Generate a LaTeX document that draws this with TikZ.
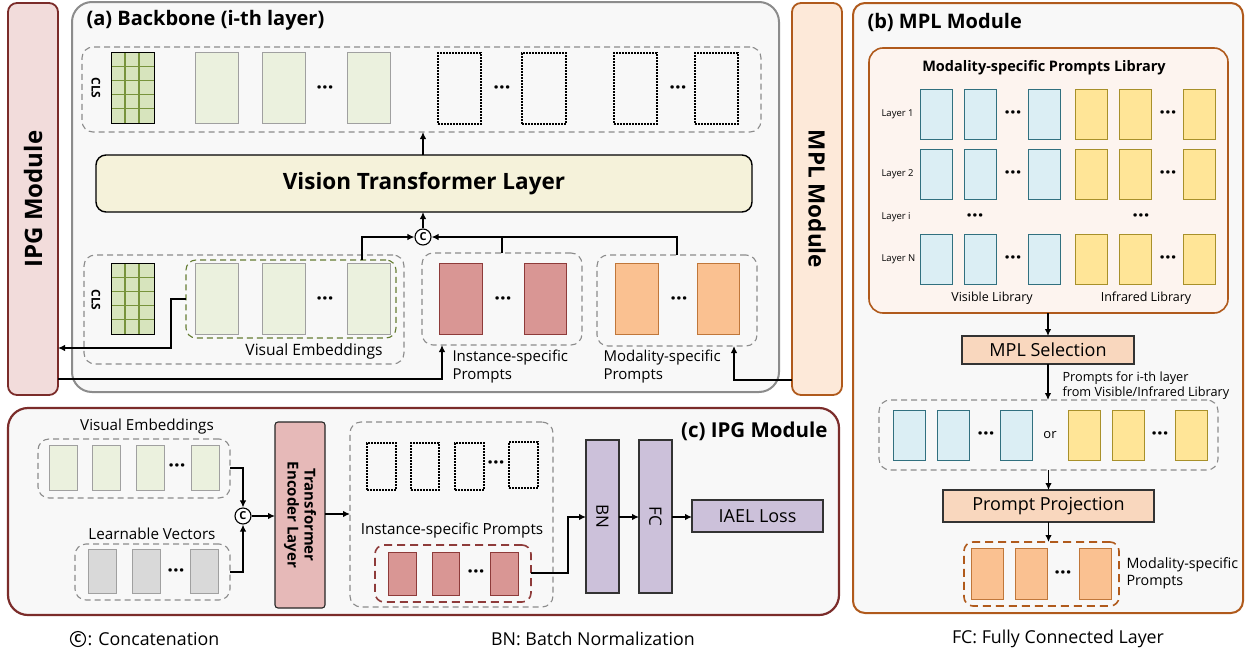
\documentclass[tikz,border=0pt]{standalone}
\usepackage{fontspec}
\setmainfont{Open Sans}
\usetikzlibrary{fit,arrows.meta,calc}
\definecolor{panel}{HTML}{F8F8F8}
\definecolor{bbord}{HTML}{8C8C8C}
\definecolor{ipgfill}{HTML}{F2DCDB}
\definecolor{ipgline}{HTML}{7B2C2A}
\definecolor{mplfill}{HTML}{FDE9D9}
\definecolor{mplline}{HTML}{B05A1C}
\definecolor{libfill}{HTML}{FDF4EF}
\definecolor{gfill}{HTML}{EBF1DE}
\definecolor{clsfill}{HTML}{D7E4BD}
\definecolor{clsline}{HTML}{77933C}
\definecolor{vtlfill}{HTML}{F5F2DA}
\definecolor{rfill}{HTML}{D99694}
\definecolor{rline}{HTML}{8E3B3A}
\definecolor{ofill}{HTML}{FAC191}
\definecolor{oline}{HTML}{C0773A}
\definecolor{bfill}{HTML}{DBEEF4}
\definecolor{bline}{HTML}{31707F}
\definecolor{yfill}{HTML}{FFE597}
\definecolor{yline}{HTML}{A8902A}
\definecolor{selfill}{HTML}{F9D7BE}
\definecolor{telfill}{HTML}{E6B9B8}
\definecolor{pfill}{HTML}{CCC1DA}
\definecolor{vfill}{HTML}{D9D9D9}
\definecolor{boxgray}{HTML}{A0A0A0}
\tikzset{
  bx/.style={inner sep=0pt, outer sep=0pt, line width=1pt},
  gbox/.style={bx, draw=boxgray, fill=gfill},
  vbox/.style={bx, draw=boxgray, fill=vfill},
  rbox/.style={bx, draw=rline, fill=rfill},
  obox/.style={bx, draw=oline, fill=ofill},
  bbox/.style={bx, draw=bline, fill=bfill},
  ybox/.style={bx, draw=yline, fill=yfill},
  dotbox/.style={bx, draw=black, line width=1.4pt, dash pattern=on 1.6pt off 1.4pt},
  clsbox/.style={bx, draw=black, fill=clsfill},
  dgroup/.style={bx, draw=bbord, line width=1.1pt, dash pattern=on 6pt off 4pt, rounded corners=11pt},
  ggroup/.style={bx, draw=clsline!85!black, line width=1.1pt, dash pattern=on 6pt off 4pt, rounded corners=10pt},
  rgroup/.style={bx, draw=rline, line width=1.6pt, dash pattern=on 8pt off 5pt, rounded corners=9pt},
  ogroup/.style={bx, draw=mplline, line width=1.6pt, dash pattern=on 8pt off 5pt, rounded corners=9pt},
  dots/.style={inner sep=0pt, yshift=-2pt, font=\bfseries\fontsize{20}{20}\selectfont},
  ln/.style={line width=1.3pt, draw=black},
  arr/.style={ln, -{Latex[length=7pt,width=6.5pt]}},
  cat/.style={circle, draw=black, line width=1.1pt, fill=white, inner sep=0pt, minimum size=16pt,
     font=\bfseries\fontsize{11}{11}\selectfont},
  plainbox/.style={bx, draw=black!80, line width=1.1pt},
}
\begin{document}
\begin{tikzpicture}[x=1pt,y=-1pt]
\useasboundingbox (0,0) rectangle (1253,656);

% ---------------- (a) Backbone ----------------
\node[bx, draw=bbord, line width=2pt, fill=panel, rounded corners=20pt, fit={(72,2)(779,392)}] (A) {};
\node[anchor=west, font=\bfseries\fontsize{20}{20}\selectfont] (ta) at (83,20) {(a) Backbone (i-th layer)};

% IPG bar
\node[bx, draw=ipgline, line width=1.8pt, fill=ipgfill, rounded corners=9pt, fit={(8,3)(58,395)}] (ipg) {};
\node[rotate=90, font=\bfseries\fontsize{24}{24}\selectfont] (ipgt) at (ipg.center) {IPG Module};
% MPL bar
\node[bx, draw=mplline, line width=1.8pt, fill=mplfill, rounded corners=9pt, fit={(792,3)(842,395)}] (mplb) {};
\node[rotate=-90, font=\bfseries\fontsize{22.5}{22.5}\selectfont] (mplt) at (mplb.center) {MPL Module};

% top row
\node[dgroup, fit={(82,47)(761,132)}] (topg) {};
\node[clsbox, fit={(111,52)(154,123)}] (cls1) {};
\foreach \xx in {125,139} \draw[clsline, line width=1.2pt] (\xx,52) -- (\xx,123);
\foreach \yy in {66.2,80.4,94.6,108.8} \draw[clsline, line width=1.2pt] (111,\yy) -- (154,\yy);
\draw[black, line width=1pt] (cls1.north west) rectangle (cls1.south east);
\node[rotate=-90, font=\bfseries\fontsize{12}{12}\selectfont] (clst1) at (96,88) {CLS};
\node[gbox, fit={(195,52)(238,123)}] (t1) {};
\node[gbox, fit={(262,52)(305,123)}] (t2) {};
\node[dots] (td1) at (325,88) {···};
\node[gbox, fit={(347,52)(390,123)}] (t3) {};
\node[dotbox, fit={(438,53)(481,124)}] (t4) {};
\node[dots] (td2) at (502,88) {···};
\node[dotbox, fit={(522,53)(566,124)}] (t5) {};
\node[dotbox, fit={(614,53)(657,124)}] (t6) {};
\node[dots] (td3) at (678,88) {···};
\node[dotbox, fit={(695,53)(738,124)}] (t7) {};

% ViT layer
\node[bx, draw=black, line width=1.4pt, fill=vtlfill, rounded corners=10pt, fit={(96,155)(752,212)}] (vtl) {};
\node[font=\bfseries\fontsize{22.5}{22.5}\selectfont] (vtlt) at (vtl.center) {Vision Transformer Layer};

% bottom row
\node[dgroup, fit={(84,255)(404,364)}] (botg) {};
\node[ggroup, fit={(186,260)(396,338)}] (veg) {};
\node[clsbox, fit={(111,263)(154,334)}] (cls2) {};
\foreach \xx in {125,139} \draw[clsline, line width=1.2pt] (\xx,263) -- (\xx,334);
\foreach \yy in {277.2,291.4,305.6,319.8} \draw[clsline, line width=1.2pt] (111,\yy) -- (154,\yy);
\draw[black, line width=1pt] (cls2.north west) rectangle (cls2.south east);
\node[rotate=-90, font=\bfseries\fontsize{12}{12}\selectfont] (clst2) at (96,300) {CLS};
\node[gbox, fit={(195,263)(238,334)}] (b1) {};
\node[gbox, fit={(262,263)(305,334)}] (b2) {};
\node[dots] (bd1) at (325,299) {···};
\node[gbox, fit={(347,263)(390,334)}] (b3) {};
\node[font=\fontsize{15.6}{15.6}\selectfont] (vet) at (314,351) {Visual Embeddings};

\node[dgroup, fit={(422,253)(582,345)}] (isp) {};
\node[rbox, fit={(439,263)(482,334)}] (r1) {};
\node[dots] (rd1) at (503,299) {···};
\node[rbox, fit={(524,263)(566,334)}] (r2) {};
\node[anchor=north west, align=left, font=\fontsize{15}{18}\selectfont] (ispt) at (449,346) {Instance-specific\\Prompts};

\node[dgroup, fit={(597,255)(757,346)}] (msp) {};
\node[obox, fit={(615,263)(658,334)}] (o1) {};
\node[dots] (od1) at (679,299) {···};
\node[obox, fit={(697,263)(739,334)}] (o2) {};
\node[anchor=north west, align=left, font=\fontsize{15}{18}\selectfont] (mspt) at (600,346) {Modality-specific\\Prompts};

% concatenation and connectors
\node[cat] (cc) at (423,237) {C};
\draw[arr] (vtl.north -| cc) -- (topg.south -| cc);
\draw[arr] (cc) -- (vtl.south -| cc);
\draw[arr] (veg.north -| 362,0) |- (cc);
\draw[ln] (msp.north -| 677,0) |- (502,237);
\draw[arr] (isp.north -| 502,0) |- (cc);
\draw[arr] (veg.west) -- (171,299) |- (ipg.east |- 0,348);
\draw[arr] (ipg.east |- 0,379) -| (isp.south -| 442,0);
\draw[arr] (mplb.west |- 0,380) -| (msp.south -| 734,0);

% ---------------- (b) MPL Module ----------------
\node[bx, draw=mplline, line width=2pt, fill=panel, rounded corners=12pt, fit={(853,3)(1243,613)}] (B) {};
\node[anchor=west, font=\bfseries\fontsize{20}{20}\selectfont] (tb) at (864,22) {(b) MPL Module};
\node[bx, draw=mplline, line width=1.6pt, fill=libfill, rounded corners=14pt, fit={(869,48)(1228,313)}] (lib) {};
\node[font=\bfseries\fontsize{14.5}{14.5}\selectfont] (libt) at (1044,68) {Modality-specific Prompts Library};
\foreach \nm/\ya/\yb/\lab in {l1/89/139/Layer 1, l2/149/199/Layer 2, lN/234/284/Layer N}{
  \node[anchor=west, font=\fontsize{9.5}{9.5}\selectfont] (\nm t) at (878,{(\ya+\yb)/2}) {\lab};
  \node[bbox, fit={(920,\ya)(952,\yb)}] (\nm b1) {};
  \node[bbox, fit={(964,\ya)(996,\yb)}] (\nm b2) {};
  \node[dots] (\nm bd) at (1013,{(\ya+\yb)/2-1}) {···};
  \node[bbox, fit={(1028,\ya)(1060,\yb)}] (\nm b3) {};
  \node[ybox, fit={(1075,\ya)(1107,\yb)}] (\nm y1) {};
  \node[ybox, fit={(1119,\ya)(1151,\yb)}] (\nm y2) {};
  \node[dots] (\nm yd) at (1168,{(\ya+\yb)/2-1}) {···};
  \node[ybox, fit={(1183,\ya)(1215,\yb)}] (\nm y3) {};
}
\node[anchor=west, font=\fontsize{9.5}{9.5}\selectfont] (lit) at (878,217) {Layer i};
\node[dots] (lid1) at (975,216) {···};
\node[dots] (lid2) at (1141,216) {···};
\node[font=\fontsize{12.5}{12.5}\selectfont] (visl) at (992,298) {Visible Library};
\node[font=\fontsize{12.5}{12.5}\selectfont] (irl) at (1146,298) {Infrared Library};

\node[plainbox, fill=selfill, fit={(962,336)(1134,364)}] (sel) {};
\node[font=\fontsize{18}{18}\selectfont] (selt) at (sel.center) {MPL Selection};
\draw[arr] (lib.south -| sel) -- (sel.north);

\node[dgroup, fit={(879,400)(1218,470)}] (selg) {};
\draw[arr] (sel.south) -- (selg.north -| sel);
\node[anchor=north west, align=left, font=\fontsize{12.7}{15}\selectfont] (selnote) at (1059,368) {Prompts for i-th layer\\from Visible/Infrared Library};
\node[bbox, fit={(893,410)(925,460)}] (s1) {};
\node[bbox, fit={(937,410)(969,460)}] (s2) {};
\node[dots] (sd1) at (986,434) {···};
\node[bbox, fit={(1000,410)(1032,460)}] (s3) {};
\node[font=\fontsize{13}{13}\selectfont] (ort) at (1050,435) {or};
\node[ybox, fit={(1068,410)(1100,460)}] (s4) {};
\node[ybox, fit={(1112,410)(1144,460)}] (s5) {};
\node[dots] (sd2) at (1160,434) {···};
\node[ybox, fit={(1175,410)(1207,460)}] (s6) {};

\node[plainbox, fill=selfill, fit={(943,490)(1154,522)}] (pp) {};
\node[font=\fontsize{18}{18}\selectfont] (ppt) at (pp.center) {Prompt Projection};
\draw[arr] (selg.south -| pp) -- (pp.north);

\node[ogroup, fit={(964,542)(1119,606)}] (og) {};
\draw[arr] (pp.south) -- (og.north -| pp);
\node[obox, fit={(971,548)(1003,599)}] (p1) {};
\node[obox, fit={(1015,548)(1047,599)}] (p2) {};
\node[dots] (pd1) at (1063,573) {···};
\node[obox, fit={(1079,548)(1111,599)}] (p3) {};
\node[anchor=north west, align=left, font=\fontsize{14.3}{17}\selectfont] (ogt) at (1123,554) {Modality-specific\\Prompts};

% ---------------- (c) IPG Module ----------------
\node[bx, draw=ipgline, line width=2.2pt, fill=panel, rounded corners=20pt, fit={(8,408)(839,615)}] (Cp) {};
\node[anchor=east, font=\bfseries\fontsize{20.5}{20.5}\selectfont] (tc) at (831,431) {(c) IPG Module};

\node[font=\fontsize{15.2}{15.2}\selectfont] (vet2) at (147,427) {Visual Embeddings};
\node[dgroup, fit={(38,439)(230,498)}] (veg2) {};
\node[gbox, fit={(49,445)(77,490)}] (c1) {};
\node[gbox, fit={(92,445)(120,490)}] (c2) {};
\node[gbox, fit={(136,445)(164,490)}] (c3) {};
\node[dots] (cd1) at (177,466) {···};
\node[gbox, fit={(191,445)(219,490)}] (c4) {};

\node[font=\fontsize{15.2}{15.2}\selectfont] (lvt) at (152,534) {Learnable Vectors};
\node[dgroup, fit={(75,544)(230,600)}] (lvg) {};
\node[vbox, fit={(88,549)(116,593)}] (v1) {};
\node[vbox, fit={(132,549)(160,593)}] (v2) {};
\node[dots] (vd1) at (176,571) {···};
\node[vbox, fit={(190,549)(218,593)}] (v3) {};

\node[cat] (cc2) at (243,516) {C};
\draw[arr] (veg2.east |- 0,468) -| (cc2.north);
\draw[arr] (lvg.east |- 0,572) -| (cc2.south);

\node[bx, draw=black!85, line width=1.1pt, fill=telfill, rounded corners=3pt, fit={(275,422)(325,608)}] (tel) {};
\node[rotate=-90, align=center, font=\bfseries\fontsize{15}{17}\selectfont] (telt) at (tel.center) {Transformer\\Encoder Layer};
\draw[arr] (cc2) -- (tel.west |- cc2);

\node[dgroup, fit={(350,422)(553,607)}] (ipgg) {};
\draw[arr] (tel.east |- 0,514) -- (ipgg.west |- 0,514);
\node[dotbox, fit={(367,443)(396,490)}] (e1) {};
\node[dotbox, fit={(411,443)(439,490)}] (e2) {};
\node[dotbox, fit={(455,443)(484,490)}] (e3) {};
\node[dots] (ed1) at (496,463) {···};
\node[dotbox, fit={(509,442)(538,488)}] (e4) {};
\node[font=\fontsize{15.3}{15.3}\selectfont] (ispt2) at (452,530) {Instance-specific Prompts};
\node[rgroup, fit={(375,545)(531,602)}] (rg) {};
\node[rbox, fit={(388,552)(416,595)}] (q1) {};
\node[rbox, fit={(432,552)(459,595)}] (q2) {};
\node[dots] (qd1) at (476,572) {···};
\node[rbox, fit={(490,552)(518,595)}] (q3) {};

\node[plainbox, fill=pfill, fit={(586,440)(619,593)}] (bn) {};
\node[rotate=-90, font=\fontsize{17}{17}\selectfont] (bnt) at (bn.center) {BN};
\node[plainbox, fill=pfill, fit={(639,440)(672,593)}] (fc) {};
\node[rotate=-90, font=\fontsize{17}{17}\selectfont] (fct) at (fc.center) {FC};
\node[plainbox, fill=pfill, fit={(692,500)(823,532)}] (iael) {};
\node[font=\fontsize{18}{18}\selectfont] (iaelt) at (iael.center) {IAEL Loss};

\draw[arr] (rg.east |- 0,573) -- (568,573) |- (bn.west |- 0,517);
\draw[arr] (bn.east |- 0,517) -- (fc.west |- 0,517);
\draw[arr] (fc.east |- 0,517) -- (iael.west |- 0,517);

% ---------------- footer ----------------
\node[cat, minimum size=15pt] (fcat) at (78,639) {C};
\node[anchor=west, font=\fontsize{17.8}{17.8}\selectfont] (fcatt) at (84,639) {: Concatenation};
\node[font=\fontsize{17.8}{17.8}\selectfont] (fbn) at (593,639) {BN: Batch Normalization};
\node[font=\fontsize{17.8}{17.8}\selectfont] (ffc) at (1058,639) {FC: Fully Connected Layer};
\end{tikzpicture}
\end{document}
